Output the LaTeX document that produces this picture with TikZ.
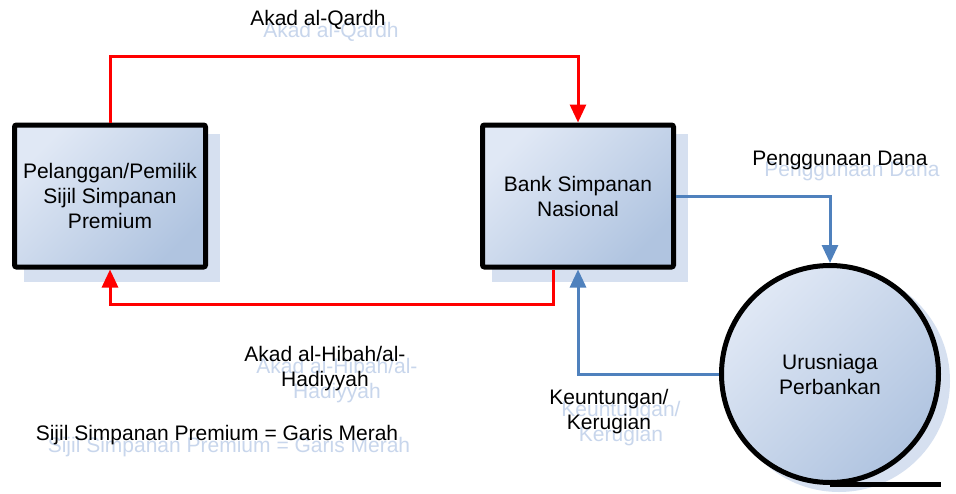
\documentclass[tikz,border=0pt]{standalone}
\usepackage{fontspec}
\setmainfont{Liberation Sans}
\usetikzlibrary{arrows.meta,calc}
\definecolor{boxA}{RGB}{224,232,245}
\definecolor{boxB}{RGB}{176,196,224}
\definecolor{shadowc}{RGB}{214,224,240}
\definecolor{ghost}{RGB}{200,214,236}
\definecolor{redline}{RGB}{255,0,0}
\definecolor{blueline}{RGB}{79,129,189}
\tikzset{
  procbox/.style={draw=black, line width=5pt, rounded corners=2pt, minimum width=191pt, minimum height=142pt,
    top color=boxA, bottom color=boxB, shading angle=45, align=center, font=\fontsize{21}{25}\selectfont},
  boxshadow/.style={fill=shadowc, draw=none, minimum width=196pt, minimum height=148pt},
  storecirc/.style={circle, draw=black, line width=5pt, minimum size=217pt, inner sep=0pt,
    top color=boxA, bottom color=boxB, shading angle=45, align=center, font=\fontsize{21}{25}\selectfont},
  circshadow/.style={circle, fill=shadowc, draw=none, minimum size=222pt, inner sep=0pt},
  lbl/.style={align=center, font=\fontsize{21}{25}\selectfont, text=black},
  ghostlbl/.style={align=center, font=\fontsize{21}{25}\selectfont, text=ghost},
  redarrow/.style={draw=redline, line width=3pt, -{Triangle[width=16pt,length=18pt]}},
  bluearrow/.style={draw=blueline, line width=3pt, -{Triangle[width=16pt,length=18pt]}},
}
\begin{document}
\begin{tikzpicture}[x=1pt,y=-1pt]
\useasboundingbox (0,0) rectangle (956,493);
\fill[white] (0,0) rectangle (956,493);
% shadows
\node[boxshadow] (custsh) at (122,208) {};
\node[boxshadow] (banksh) at (590,208) {};
\node[circshadow] (circsh) at (839,381) {};
% ghost texts
\node[ghostlbl] (g1) at (331,32) {Akad al-Qardh};
\node[ghostlbl] (g2) at (852,171) {Penggunaan Dana};
\node[ghostlbl] (g3) at (337,381) {Akad al-Hibah/al-\\Hadiyyah};
\node[ghostlbl] (g4) at (621,424) {Keuntungan/\\Kerugian};
\node[ghostlbl] (g5) at (229,447) {Sijil Simpanan Premium = Garis Merah};
% main shapes
\node[procbox] (cust) at (110,196) {Pelanggan/Pemilik\\Sijil Simpanan\\Premium};
\node[procbox] (bank) at (578,196) {Bank Simpanan\\Nasional};
\draw[line width=5pt] (830,484) -- (941,484);
\node[storecirc] (circ) at (830,374) {Urusniaga\\Perbankan};
% connectors
\draw[redarrow] (cust.north) -- (110,56) -| (bank.north);
\draw[redarrow] ([xshift=-25pt]bank.south) -- ($([xshift=-25pt]bank.south)+(0,35)$) -| (cust.south);
\draw[bluearrow] (bank.east) -| (circ.north);
\draw[bluearrow] (circ.west) -| (bank.south);
% labels
\node[lbl] (l1) at (318,20) {Akad al-Qardh};
\node[lbl] (l2) at (840,160) {Penggunaan Dana};
\node[lbl] (l3) at (325,369) {Akad al-Hibah/al-\\Hadiyyah};
\node[lbl] (l4) at (609,412) {Keuntungan/\\Kerugian};
\node[lbl] (l5) at (217,435) {Sijil Simpanan Premium = Garis Merah};
\end{tikzpicture}
\end{document}
